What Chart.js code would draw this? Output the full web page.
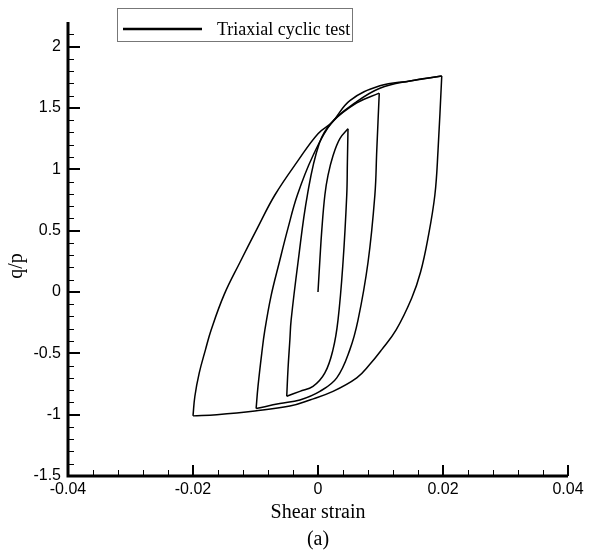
<!DOCTYPE html>
<html>
<head>
<meta charset="utf-8">
<script src="https://cdn.jsdelivr.net/npm/chart.js@4/dist/chart.umd.min.js"></script>
<style>
  html, body { margin: 0; padding: 0; background: #fff; }
  #wrap { width: 591px; height: 553px; position: relative; }
</style>
</head>
<body>
<div id="wrap"><canvas id="hysteresisChart"></canvas></div>
<script>
// === Data: [shear strain, q/p] ===
const seriesLabel = 'Triaxial cyclic test';
const xTitle = 'Shear strain';
const yTitle = 'q/p';
const panelLabel = '(a)';

const xTicks = [-0.04, -0.02, 0, 0.02, 0.04];
const xTickLabels = ['-0.04', '-0.02', '0', '0.02', '0.04'];
const yTicks = [-1.5, -1, -0.5, 0, 0.5, 1, 1.5, 2];
const yTickLabels = ['-1.5', '-1', '-0.5', '0', '0.5', '1', '1.5', '2'];

// first loading from the origin
const loading0 = [[0, 0], [0.0003, 0.26], [0.0006, 0.50], [0.0011, 0.79], [0.0016, 0.95],
  [0.0024, 1.11], [0.0035, 1.25], [0.0048, 1.33]];
// cycle 1 (amplitude 0.005)
const unloading1 = [[0.0048, 1.33], [0.0047, 1.05], [0.0046, 0.79], [0.0040, 0.24], [0.0032, -0.23],
  [0.0024, -0.47], [0.0011, -0.66], [-0.0008, -0.77], [-0.0029, -0.81], [-0.0050, -0.85]];
const reloading1 = [[-0.0050, -0.85], [-0.0048, -0.63], [-0.0045, -0.39], [-0.0043, -0.23], [-0.0032, 0.24],
  [-0.0017, 0.79], [0.0002, 1.21], [0.0022, 1.38], [0.0062, 1.54], [0.0098, 1.62]];
// cycle 2 (amplitude 0.01)
const unloading2 = [[0.0098, 1.62], [0.0094, 1.15], [0.0091, 0.79], [0.0080, 0.24], [0.0064, -0.23],
  [0.0051, -0.47], [0.0030, -0.70], [0.0003, -0.81], [-0.0029, -0.88], [-0.0061, -0.91], [-0.0099, -0.95]];
const reloading2 = [[-0.0099, -0.95], [-0.0096, -0.77], [-0.0090, -0.50], [-0.0085, -0.31], [-0.0075, -0.03],
  [-0.0062, 0.24], [-0.0048, 0.52], [-0.0033, 0.79], [-0.0009, 1.10], [0.0022, 1.38], [0.0059, 1.54],
  [0.0099, 1.66], [0.0147, 1.72], [0.0198, 1.76]];
// cycle 3 (amplitude 0.02)
const unloading3 = [[0.0198, 1.76], [0.0192, 1.15], [0.0187, 0.79], [0.0176, 0.44], [0.0164, 0.16],
  [0.0150, -0.05], [0.0125, -0.31], [0.0102, -0.47], [0.0083, -0.59], [0.0062, -0.70], [0.0024, -0.81],
  [-0.0013, -0.88], [-0.0045, -0.93], [-0.0101, -0.97], [-0.0162, -1.00], [-0.0200, -1.01]];
const reloading3 = [[-0.0200, -1.01], [-0.0197, -0.85], [-0.0190, -0.66], [-0.0180, -0.47], [-0.0171, -0.31],
  [-0.0150, -0.02], [-0.0125, 0.24], [-0.0097, 0.52], [-0.0069, 0.79], [-0.0032, 1.07], [0.0000, 1.29],
  [0.0022, 1.38], [0.0051, 1.56], [0.0099, 1.68], [0.0147, 1.72], [0.0198, 1.76]];

const branches = [loading0, unloading1, reloading1, unloading2, reloading2, unloading3, reloading3];

const sansFont = "'Liberation Sans', Arial, sans-serif";
const serifFont = "'Liberation Serif', 'Times New Roman', serif";

// axes, inward ticks, legend box and y title
const decorations = {
  id: 'decorations',
  afterDraw(chart) {
    const {ctx, chartArea: area, scales: {x, y}} = chart;
    ctx.save();
    ctx.strokeStyle = '#000';

    // minor ticks
    ctx.lineWidth = 1;
    ctx.beginPath();
    for (let i = 0; i <= 20; i++) {
      const px = Math.round(x.getPixelForValue(-0.04 + i * 0.004)) + 0.5;
      ctx.moveTo(px, area.bottom);
      ctx.lineTo(px, area.bottom - 6);
    }
    for (let i = 0; i <= 36; i++) {
      const py = Math.round(y.getPixelForValue(-1.5 + i * 0.1)) + 0.5;
      ctx.moveTo(area.left, py);
      ctx.lineTo(area.left + 6, py);
    }
    ctx.stroke();

    // major ticks
    ctx.lineWidth = 2;
    ctx.beginPath();
    xTicks.forEach(v => {
      const px = Math.round(x.getPixelForValue(v));
      ctx.moveTo(px, area.bottom);
      ctx.lineTo(px, area.bottom - 11);
    });
    yTicks.forEach(v => {
      const py = Math.round(y.getPixelForValue(v));
      ctx.moveTo(area.left, py);
      ctx.lineTo(area.left + 12, py);
    });
    ctx.stroke();

    // axis lines
    ctx.lineWidth = 3;
    ctx.lineJoin = 'miter';
    ctx.beginPath();
    ctx.moveTo(area.left, area.top);
    ctx.lineTo(area.left, area.bottom);
    ctx.lineTo(area.right, area.bottom);
    ctx.stroke();

    // y axis title
    ctx.fillStyle = '#000';
    ctx.font = '20px ' + serifFont;
    ctx.textAlign = 'center';
    ctx.textBaseline = 'middle';
    ctx.save();
    ctx.translate(17, 266);
    ctx.rotate(-Math.PI / 2);
    ctx.fillText(yTitle, 0, 0);
    ctx.restore();

    // legend
    ctx.lineWidth = 1;
    ctx.strokeStyle = '#777';
    ctx.strokeRect(117.5, 8.5, 235, 33);
    ctx.strokeStyle = '#000';
    ctx.lineWidth = 2.5;
    ctx.beginPath();
    ctx.moveTo(123, 29);
    ctx.lineTo(202, 29);
    ctx.stroke();
    ctx.font = '18px ' + serifFont;
    ctx.textAlign = 'left';
    ctx.textBaseline = 'alphabetic';
    ctx.fillText(chart.data.datasets[0].label, 217, 35);
    ctx.restore();
  }
};

const ctx = document.getElementById('hysteresisChart');

new Chart(ctx, {
  type: 'scatter',
  data: {
    datasets: branches.map((branch, i) => ({
      label: i === 0 ? seriesLabel : '',
      data: branch.map(p => ({x: p[0], y: p[1]})),
      showLine: true,
      borderColor: '#000',
      borderWidth: 1.5,
      pointRadius: 0,
      pointHoverRadius: 0,
      tension: 0.4,
      fill: false
    }))
  },
  options: {
    responsive: true,
    maintainAspectRatio: false,
    animation: false,
    events: [],
    layout: {padding: {top: 22, right: 23, left: 0, bottom: 0}},
    scales: {
      x: {
        type: 'linear',
        min: -0.04,
        max: 0.04,
        afterFit: scale => { scale.height = 77; },
        afterBuildTicks: scale => { scale.ticks = xTicks.map(v => ({value: v})); },
        grid: {display: false, drawTicks: false},
        border: {display: false},
        ticks: {
          padding: 4,
          maxRotation: 0,
          autoSkip: false,
          color: '#000',
          font: {family: sansFont, size: 16},
          callback: (v, i) => xTickLabels[i]
        },
        title: {
          display: true,
          text: [xTitle, panelLabel],
          color: '#000',
          font: {family: serifFont, size: 20, lineHeight: 1.35},
          padding: {top: 0, bottom: 0}
        }
      },
      y: {
        type: 'linear',
        min: -1.5,
        max: 2.2,
        afterFit: scale => { scale.width = 68; },
        afterBuildTicks: scale => { scale.ticks = yTicks.map(v => ({value: v})); },
        grid: {display: false, drawTicks: false},
        border: {display: false},
        ticks: {
          padding: 7,
          autoSkip: false,
          color: '#000',
          font: {family: sansFont, size: 16},
          callback: (v, i) => yTickLabels[i]
        }
      }
    },
    plugins: {
      legend: {display: false},
      tooltip: {enabled: false},
      title: {display: false}
    }
  },
  plugins: [decorations]
});
</script>
</body>
</html>
